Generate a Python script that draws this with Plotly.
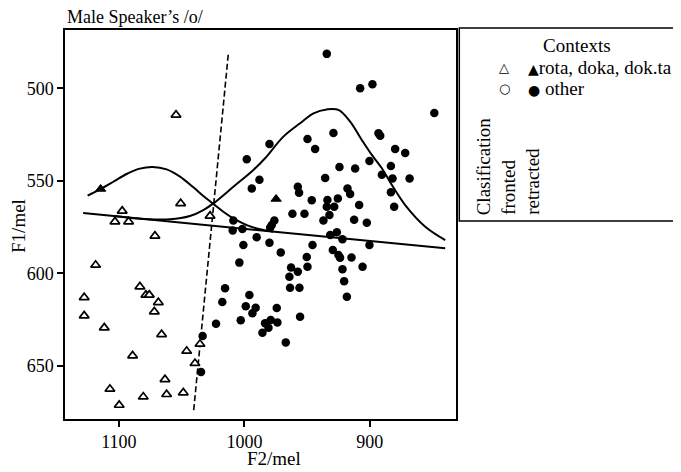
import plotly.graph_objects as go

# ---------------- data ----------------
# fronted, rota/doka/dok.ta (open triangles)
fronted_rota_x = [1054.5, 1050.8, 1097.4, 1103.2, 1092.3, 1071.3, 1118.6, 1027.4, 1083.3, 1078.5,
                  1075.8, 1068.6, 1127.7, 1071.8, 1127.7, 1111.7, 1066.0, 1035.4, 1046.0, 1089.1,
                  1039.4, 1063.3, 1107.2, 1062.0, 1048.7, 1080.6, 1099.8]
fronted_rota_y = [514.4, 562.2, 566.3, 572.1, 572.1, 579.8, 595.5, 569.0, 607.2, 611.7,
                  611.7, 615.7, 613.0, 620.7, 622.9, 629.4, 633.0, 638.2, 642.0, 644.5,
                  648.6, 657.3, 662.5, 665.4, 664.5, 666.7, 671.2]

# retracted, rota/doka/dok.ta (filled triangles)
retracted_rota_x = [1114.6, 974.7]
retracted_rota_y = [554.4, 559.8]

# retracted, other (filled circles)
retracted_other_x = [934.3, 907.7, 897.9, 848.6, 929.0, 893.1, 891.7, 949.7, 980.0, 943.6,
                     879.8, 871.8, 998.1, 900.3, 924.2, 911.7, 883.2, 890.4, 935.6, 881.9,
                     868.3, 988.0, 994.1, 957.4, 956.4, 917.8, 915.7, 883.2, 946.3, 933.8,
                     925.5, 934.3, 928.4, 908.5, 880.6, 961.7, 952.1, 932.2, 937.0, 912.5,
                     902.4, 976.1, 978.2, 1008.8, 1009.3, 1001.6, 979.5, 990.2, 931.6, 926.3,
                     921.8, 980.0, 1000.8, 945.7, 900.3, 971.0, 929.5, 925.0, 923.7, 950.3,
                     914.6, 1004.0, 962.8, 957.4, 949.7, 905.8, 921.8, 964.1, 920.5, 1015.4,
                     963.6, 956.1, 918.3, 996.0, 1017.6, 998.9, 991.0, 993.6, 974.2, 955.6,
                     1002.9, 1022.6, 983.5, 979.0, 973.7, 980.8, 985.6, 967.0, 1033.3, 1034.6]
retracted_other_y = [481.4, 500.0, 497.8, 513.3, 524.1, 524.3, 525.6, 527.4, 530.1, 532.8,
                     532.8, 535.0, 538.4, 539.3, 542.5, 543.4, 542.0, 546.7, 548.5, 548.7,
                     548.7, 549.4, 554.2, 553.2, 556.4, 554.2, 557.1, 556.2, 560.5, 560.4,
                     559.5, 564.0, 564.0, 563.1, 564.0, 567.8, 567.8, 568.5, 571.5, 571.0,
                     572.6, 571.5, 573.9, 571.4, 576.8, 576.0, 575.3, 580.5, 579.3, 577.8,
                     581.6, 583.4, 584.7, 584.7, 584.7, 588.7, 587.4, 590.1, 591.5, 591.2,
                     591.4, 594.2, 596.8, 599.1, 596.4, 596.4, 597.8, 601.8, 604.2, 608.1,
                     607.8, 607.8, 612.6, 611.7, 615.5, 617.8, 618.6, 621.6, 618.7, 623.4,
                     625.4, 627.2, 627.0, 625.2, 626.5, 629.4, 632.1, 637.3, 633.9, 653.3]

# classification boundary (dashed)
boundary_x = [1040.4, 1012.8]
boundary_y = [673.9, 481.4]

# baseline of density curves
baseline_x = [1128.5, 839.9]
baseline_y = [567.4, 586.5]

# density curve of fronted
front_curve_x = [1125.0, 1115.2, 1104.5, 1093.9, 1083.3, 1073.2, 1062.0, 1051.3, 1040.7, 1032.7,
                 1025.3, 1016.8, 1008.8, 998.1, 987.5, 977.0]
front_curve_y = [558.0, 554.6, 550.5, 546.3, 543.4, 542.5, 543.8, 547.7, 553.5, 558.2,
                 562.2, 566.7, 570.3, 573.9, 576.2, 577.5]

# density curve of retracted
retr_curve_x = [1104.5, 1080.6, 1059.3, 1043.4, 1032.7, 1024.7, 1008.8, 992.8, 983.5, 968.9,
                955.6, 944.9, 934.3, 925.0, 915.7, 906.4, 898.4, 890.4, 882.4, 871.8,
                855.8, 839.9]
retr_curve_y = [569.0, 570.6, 570.8, 569.0, 565.8, 562.2, 553.2, 544.1, 537.8, 526.1,
                518.9, 513.5, 511.4, 511.7, 518.0, 527.9, 536.0, 543.2, 552.3, 563.1,
                574.8, 582.0]

x_ticks = [1100, 1000, 900]
y_ticks = [500, 550, 600, 650]

# ---------------- layout geometry ----------------
# the page body adds an 8px offset, so the figure is 8px smaller
OFF = 8
W, H = 681 - OFF, 472 - OFF
L, T = 65 - OFF, 30 - OFF
PLOT_RIGHT, PLOT_BOTTOM = 455.7 - OFF, 419 - OFF
R, B = W - PLOT_RIGHT, H - PLOT_BOTTOM
PW, PH = W - L - R, H - T - B


def px(x):
    """screen x -> paper"""
    return (x - OFF - L) / PW


def py(y):
    """screen y -> paper"""
    return (H - B - (y - OFF)) / PH


SERIF = "Liberation Serif, Times New Roman, serif"
SYM = "DejaVu Sans, sans-serif"

fig = go.Figure()

fig.add_trace(go.Scatter(x=boundary_x, y=boundary_y, mode="lines",
                         line=dict(color="black", width=1.6, dash="6px,3px"), hoverinfo="skip"))
fig.add_trace(go.Scatter(x=baseline_x, y=baseline_y, mode="lines",
                         line=dict(color="black", width=2), hoverinfo="skip"))
fig.add_trace(go.Scatter(x=front_curve_x, y=front_curve_y, mode="lines",
                         line=dict(color="black", width=2, shape="spline"), hoverinfo="skip"))
fig.add_trace(go.Scatter(x=retr_curve_x, y=retr_curve_y, mode="lines",
                         line=dict(color="black", width=2, shape="spline"), hoverinfo="skip"))

fig.add_trace(go.Scatter(x=retracted_other_x, y=retracted_other_y, mode="markers",
                         marker=dict(symbol="circle", size=8.5, color="black", line=dict(width=0))))
fig.add_trace(go.Scatter(x=fronted_rota_x, y=fronted_rota_y, mode="markers",
                         marker=dict(symbol="triangle-up", size=8.5, color="white",
                                     line=dict(color="black", width=1.7))))
fig.add_trace(go.Scatter(x=retracted_rota_x, y=retracted_rota_y, mode="markers",
                         marker=dict(symbol="triangle-up", size=9, color="black",
                                     line=dict(color="black", width=1))))

axis_common = dict(showgrid=False, zeroline=False, showline=True, linecolor="black", linewidth=1.5,
                   mirror=True, ticks="outside", ticklen=6, tickwidth=1.5, tickcolor="black",
                   tickfont=dict(family=SERIF, size=18, color="black"))

fig.update_xaxes(range=[1143, 831.3], tickvals=x_ticks, **axis_common)
fig.update_yaxes(range=[678.7, 468.5], tickvals=y_ticks, **axis_common)

ann = []
# chart title
ann.append(dict(text="Male Speaker’s /o/", x=px(65), y=py(17.5), xanchor="left", yanchor="middle",
                font=dict(family=SERIF, size=18, color="black")))
# axis titles
ann.append(dict(text="F2/mel", x=px(274), y=py(458), xanchor="center", yanchor="middle",
                font=dict(family=SERIF, size=19, color="black")))
ann.append(dict(text="F1/mel", x=px(18), y=py(226), xanchor="center", yanchor="middle", textangle=-90,
                font=dict(family=SERIF, size=19, color="black")))
# legend
ann.append(dict(text="Contexts", x=px(577), y=py(45), xanchor="center", yanchor="middle",
                font=dict(family=SERIF, size=19, color="black")))
ann.append(dict(text="△", x=px(504), y=py(68), xanchor="center", yanchor="middle",
                font=dict(family=SYM, size=13, color="black")))
ann.append(dict(text="○", x=px(504), y=py(88), xanchor="center", yanchor="middle",
                font=dict(family=SYM, size=13, color="black")))
ann.append(dict(text="<span style='font-family:DejaVu Sans;font-size:14px'>▲</span>rota, doka, dok.ta",
                x=px(526), y=py(68), xanchor="left", yanchor="middle",
                font=dict(family=SERIF, size=19, color="black")))
ann.append(dict(text="<span style='font-family:DejaVu Sans;font-size:14px'>●</span> other",
                x=px(526), y=py(88), xanchor="left", yanchor="middle",
                font=dict(family=SERIF, size=19, color="black")))
for label, cx in [("Clasification", 483), ("fronted", 508), ("retracted", 532)]:
    ann.append(dict(text=label, x=px(cx), y=py(217), xanchor="center", yanchor="bottom", textangle=-90,
                    font=dict(family=SERIF, size=19, color="black")))

for a in ann:
    a.update(xref="paper", yref="paper", showarrow=False)

fig.update_layout(
    width=W, height=H, autosize=False,
    margin=dict(l=L, r=R, t=T, b=B, pad=0),
    paper_bgcolor="white", plot_bgcolor="white",
    showlegend=False,
    annotations=ann,
    shapes=[dict(type="rect", xref="paper", yref="paper", x0=px(459), x1=px(679), y0=py(28), y1=py(221),
                 line=dict(color="black", width=1.5), fillcolor="rgba(0,0,0,0)")],
)

fig.write_html("out.html")
